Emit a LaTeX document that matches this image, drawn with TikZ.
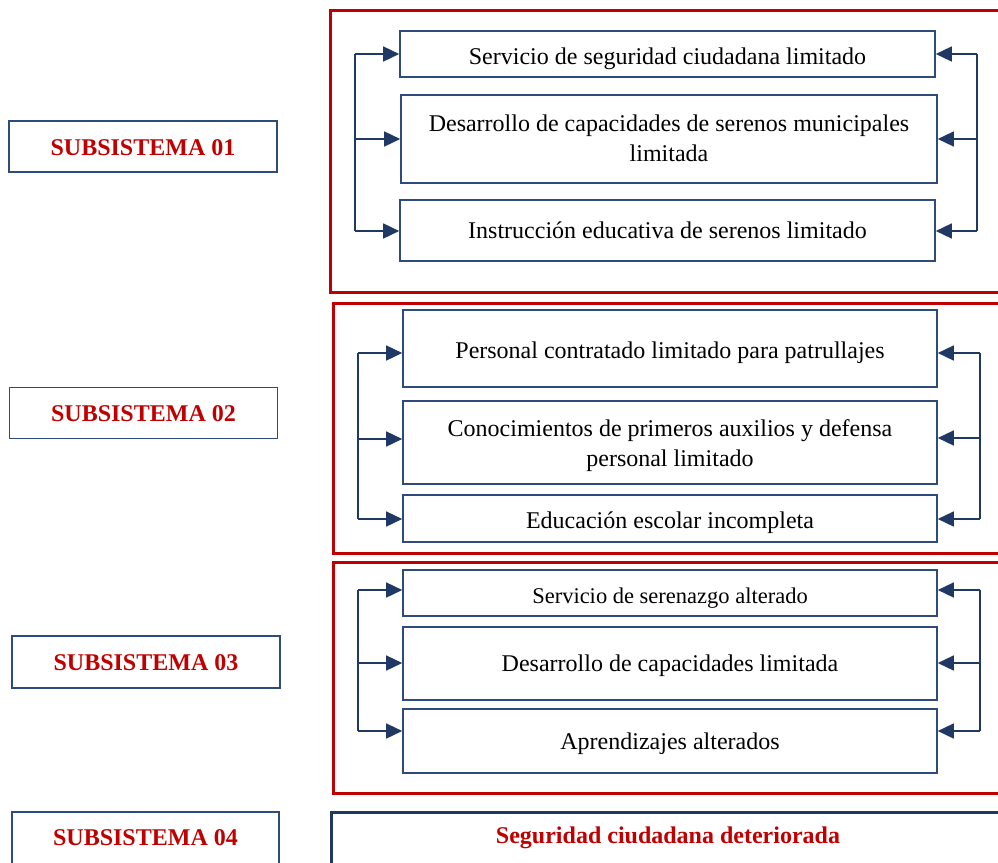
\documentclass[tikz,border=0pt]{standalone}
\usepackage{fontspec}
\setmainfont{Liberation Serif}
\usetikzlibrary{arrows.meta}
\definecolor{redf}{HTML}{C00000}
\definecolor{navy}{HTML}{1F3864}
\definecolor{boxl}{HTML}{2F4B7C}
\newcommand\lowertxt[2]{\raisebox{-#1}[\height][\depth]{#2}}
\tikzset{
  frame/.style={draw=redf, line width=3pt},
  item/.style={draw=boxl, line width=1.6pt, inner sep=0pt, align=center,
    font=\fontsize{24}{30}\selectfont},
  subbox/.style={draw=boxl, line width=1.6pt, minimum width=268pt, minimum height=51pt, inner sep=0pt,
    text=redf, font=\fontsize{24}{29}\selectfont\bfseries},
  link/.style={draw=navy, line width=1.5pt},
  arr/.style={draw=navy, line width=1.5pt, -{Triangle[length=16pt,width=15pt]}},
}
\begin{document}
\begin{tikzpicture}[x=1pt,y=-1pt]
\useasboundingbox (0,0) rectangle (998,862);
\clip (0,0) rectangle (998,862);
% frames
\draw[frame] (330,10) rectangle (1020,292);
\draw[frame] (333,303) rectangle (1020,553);
\draw[frame] (333,562) rectangle (1020,793);
% subsystem labels
\node[subbox] (s1) at (143,146.5) {\lowertxt{1pt}{SUBSISTEMA 01}};
\node[subbox] (s2) at (143.5,413) {\lowertxt{1pt}{SUBSISTEMA 02}};
\node[subbox, minimum height=52pt] (s3) at (146,662) {\lowertxt{1pt}{SUBSISTEMA 03}};
\node[subbox, minimum width=267pt, minimum height=64pt] (s4) at (145.5,844) {};
\node[text=redf, font=\fontsize{24}{29}\selectfont\bfseries] (s4t) at (145.5,838) {SUBSISTEMA 04};
% bottom box
\node[draw=navy, line width=3pt, minimum width=690pt, minimum height=70pt, inner sep=0pt] (res) at (676,847) {};
\node[text=redf, font=\fontsize{24}{29}\selectfont\bfseries] (rest) at (668,838) {Seguridad ciudadana deteriorada};
% group 1
\node[item, minimum width=535pt, minimum height=46pt] (a) at (667.5,54) {\lowertxt{5pt}{Servicio de seguridad ciudadana limitado}};
\node[item, minimum width=536pt, minimum height=88pt] (b) at (669,139) {\lowertxt{1pt}{\begin{tabular}{@{}c@{}}Desarrollo de capacidades de serenos municipales\\limitada\end{tabular}}};
\node[item, minimum width=535pt, minimum height=61pt] (c) at (667.5,230.5) {Instrucción educativa de serenos limitado};
% group 2
\node[item, minimum width=534pt, minimum height=77pt] (d) at (670,348.5) {\lowertxt{4pt}{Personal contratado limitado para patrullajes}};
\node[item, minimum width=534pt, minimum height=83pt] (e) at (670,442.5) {\lowertxt{3pt}{\begin{tabular}{@{}c@{}}Conocimientos de primeros auxilios y defensa\\personal limitado\end{tabular}}};
\node[item, minimum width=534pt, minimum height=47pt] (f) at (670,518.5) {\lowertxt{4pt}{Educación escolar incompleta}};
% group 3
\node[item, minimum width=534pt, minimum height=46pt, font=\fontsize{22.5}{27}\selectfont] (g) at (670,593) {\lowertxt{5pt}{Servicio de serenazgo alterado}};
\node[item, minimum width=534pt, minimum height=73pt] (h) at (670,663.5) {\lowertxt{2pt}{Desarrollo de capacidades limitada}};
\node[item, minimum width=534pt, minimum height=64pt] (i) at (670,741) {\lowertxt{3pt}{Aprendizajes alterados}};
% brackets group 1
\coordinate (l1a) at (355,54); \coordinate (l1b) at (355,139); \coordinate (l1c) at (355,231);
\coordinate (r1a) at (977,54); \coordinate (r1b) at (977,139); \coordinate (r1c) at (977,231);
\draw[link] (l1a) -- (l1c);
\draw[link] (r1a) -- (r1c);
\draw[arr] (l1a) -- (a.west |- l1a);
\draw[arr] (l1b) -- (b.west |- l1b);
\draw[arr] (l1c) -- (c.west |- l1c);
\draw[arr] (r1a) -- (a.east |- r1a);
\draw[arr] (r1b) -- (b.east |- r1b);
\draw[arr] (r1c) -- (c.east |- r1c);
% brackets group 2
\coordinate (l2a) at (358,353); \coordinate (l2b) at (358,439); \coordinate (l2c) at (358,519);
\coordinate (r2a) at (980,353); \coordinate (r2b) at (980,438); \coordinate (r2c) at (980,519);
\draw[link] (l2a) -- (l2c);
\draw[link] (r2a) -- (r2c);
\draw[arr] (l2a) -- (d.west |- l2a);
\draw[arr] (l2b) -- (e.west |- l2b);
\draw[arr] (l2c) -- (f.west |- l2c);
\draw[arr] (r2a) -- (d.east |- r2a);
\draw[arr] (r2b) -- (e.east |- r2b);
\draw[arr] (r2c) -- (f.east |- r2c);
% brackets group 3
\coordinate (l3a) at (358,590); \coordinate (l3b) at (358,663); \coordinate (l3c) at (358,731);
\coordinate (r3a) at (980,590); \coordinate (r3b) at (980,663); \coordinate (r3c) at (980,731);
\draw[link] (l3a) -- (l3c);
\draw[link] (r3a) -- (r3c);
\draw[arr] (l3a) -- (g.west |- l3a);
\draw[arr] (l3b) -- (h.west |- l3b);
\draw[arr] (l3c) -- (i.west |- l3c);
\draw[arr] (r3a) -- (g.east |- r3a);
\draw[arr] (r3b) -- (h.east |- r3b);
\draw[arr] (r3c) -- (i.east |- r3c);
\end{tikzpicture}
\end{document}
